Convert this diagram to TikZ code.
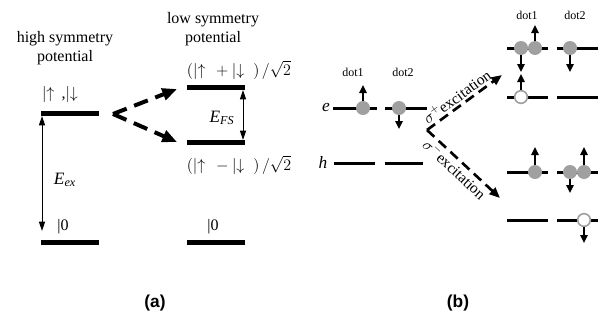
\documentclass[tikz,border=0pt]{standalone}
\usepackage{fontspec}
\setmainfont{Liberation Serif}
\newfontfamily\panelfont{Liberation Sans}
\usetikzlibrary{arrows.meta}
\definecolor{dotgray}{RGB}{160,160,160}

\tikzset{
  level/.style={line width=3.75pt},
  sublevel/.style={line width=2.25pt},
  gaparrow/.style={{Triangle[length=7pt,width=4.5pt]}-{Triangle[length=7pt,width=4.5pt]}, line width=0.75pt},
  splitarrow/.style={-{Triangle[length=11pt,width=9pt]}, line width=3pt, dash pattern=on 11pt off 6pt},
  excite/.style={-{Triangle[length=8pt,width=6.5pt]}, line width=2pt, dash pattern=on 7.5pt off 4.5pt},
  spin/.style={-{Triangle[length=6pt,width=5.5pt]}, line width=1.5pt},
  electron/.style={circle, fill=dotgray, inner sep=0pt, minimum size=10.5pt},
  hole/.style={circle, draw=dotgray, fill=white, line width=1.2pt, inner sep=0pt, minimum size=9.5pt},
  bigtext/.style={font=\fontsize{12}{14.5}\selectfont},
  smalltext/.style={font=\fontsize{9}{11}\selectfont},
  midtext/.style={font=\fontsize{11.5}{13}\selectfont, inner sep=1.5pt},
  panel/.style={font=\panelfont\bfseries\fontsize{13}{15}\selectfont},
}

\begin{document}
\begin{tikzpicture}[x=0.75pt,y=-0.75pt]
  \useasboundingbox (0,0) rectangle (600,322);

  % (a) energy levels
  \foreach \y in {113,242} {\draw[level] (41,\y) -- (99,\y);}
  \foreach \y in {87,142,242} {\draw[level] (187,\y) -- (245,\y);}

  % (a) texts
  \node[bigtext, align=center] (hsym) at (65,48) {high symmetry\\potential};
  \node[bigtext, align=center] (lsym) at (213,29) {low symmetry\\potential};
  \node[bigtext] (pair) at (60,94) {$|{\uparrow}$\;\,,$|{\downarrow}$};
  \node[bigtext] (plus) at (239,70) {$(|{\uparrow}\;\,+|{\downarrow}\;\;)\,/\sqrt{2}$};
  \node[bigtext] (minus) at (239,165) {$(|{\uparrow}\;\,-|{\downarrow}\;\;)\,/\sqrt{2}$};
  \node[bigtext] (gnda) at (63,227) {|0};
  \node[bigtext] (gndb) at (213,227) {|0};
  \node[bigtext, font=\fontsize{13}{15}\selectfont] (eex) at (65,180) {\textit{E}\textsubscript{\textit{ex}}};
  \node[bigtext, font=\fontsize{13}{15}\selectfont] (efs) at (222,118) {\textit{E}\textsubscript{\textit{FS}}};

  % (a) arrows
  \coordinate (exTop) at (42,116);
  \coordinate (exBot) at (42,231);
  \draw[gaparrow] (exTop) -- (exBot);
  \coordinate (fsTop) at (243,90);
  \coordinate (fsBot) at (243,140);
  \draw[gaparrow] (fsTop) -- (fsBot);
  \coordinate (split) at (113,114);
  \coordinate (splitUp) at (177,89);
  \coordinate (splitDn) at (177,142);
  \draw[splitarrow] (split) -- (splitUp);
  \draw[splitarrow] (split) -- (splitDn);

  % (b) levels
  \draw[sublevel] (333,108) -- (377,108);
  \draw[sublevel] (385,108) -- (427,108);
  \draw[sublevel] (334,163) -- (375,163);
  \draw[sublevel] (385,163) -- (423,163);
  \foreach \y in {48,97,172,220} {
    \draw[sublevel] (507,\y) -- (548,\y);
    \draw[sublevel] (557,\y) -- (598,\y);
  }

  % (b) texts
  \node[bigtext, font=\itshape\fontsize{13}{15}\selectfont] (elab) at (326,107) {e};
  \node[bigtext, font=\itshape\fontsize{13}{15}\selectfont] (hlab) at (323,162) {h};
  \node[smalltext] (dotA) at (353,72) {dot1};
  \node[smalltext] (dotB) at (403,72) {dot2};
  \node[smalltext] (dotC) at (527,15) {dot1};
  \node[smalltext] (dotD) at (575,15) {dot2};

  % (b) carriers
  \node[electron] (e1) at (363,108) {};
  \node[electron] (e2) at (399,108) {};
  \node[electron] (p1a) at (521,48) {};
  \node[electron] (p1b) at (535,48) {};
  \node[electron] (p2) at (570,48) {};
  \node[hole] (p1h) at (521,97) {};
  \node[electron] (m1) at (535,172) {};
  \node[electron] (m2a) at (570,172) {};
  \node[electron] (m2b) at (584,172) {};
  \node[hole] (m2h) at (584,220) {};

  % (b) spins
  \coordinate (e1s) at (363,85);
  \coordinate (e2s) at (399,129);
  \coordinate (p1as) at (521,72);
  \coordinate (p1bs) at (535,25);
  \coordinate (p1hs) at (521,74);
  \coordinate (p2s) at (570,72);
  \coordinate (m1s) at (535,147);
  \coordinate (m2as) at (570,193);
  \coordinate (m2bs) at (584,147);
  \coordinate (m2hs) at (584,243);
  \draw[spin] (e1) -- (e1s);
  \draw[spin] (e2) -- (e2s);
  \draw[spin] (p1a) -- (p1as);
  \draw[spin] (p1b) -- (p1bs);
  \draw[spin] (p1h) -- (p1hs);
  \draw[spin] (p2) -- (p2s);
  \draw[spin] (m1) -- (m1s);
  \draw[spin] (m2a) -- (m2as);
  \draw[spin] (m2b) -- (m2bs);
  \draw[spin] (m2h) -- (m2hs);

  % (b) excitation
  \coordinate (exc) at (427,130);
  \coordinate (excUp) at (502,75);
  \coordinate (excDn) at (500,198);
  \draw[excite] (exc) -- node[midtext, pos=0.47, sloped, above] (plab) {$\sigma^{+}$excitation} (excUp);
  \draw[excite] (exc) -- node[midtext, pos=0.47, sloped, below] (mlab) {$\sigma^{-}$excitation} (excDn);

  % panel labels
  \node[panel] (pa) at (155,303) {(a)};
  \node[panel] (pb) at (458,303) {(b)};
\end{tikzpicture}
\end{document}
